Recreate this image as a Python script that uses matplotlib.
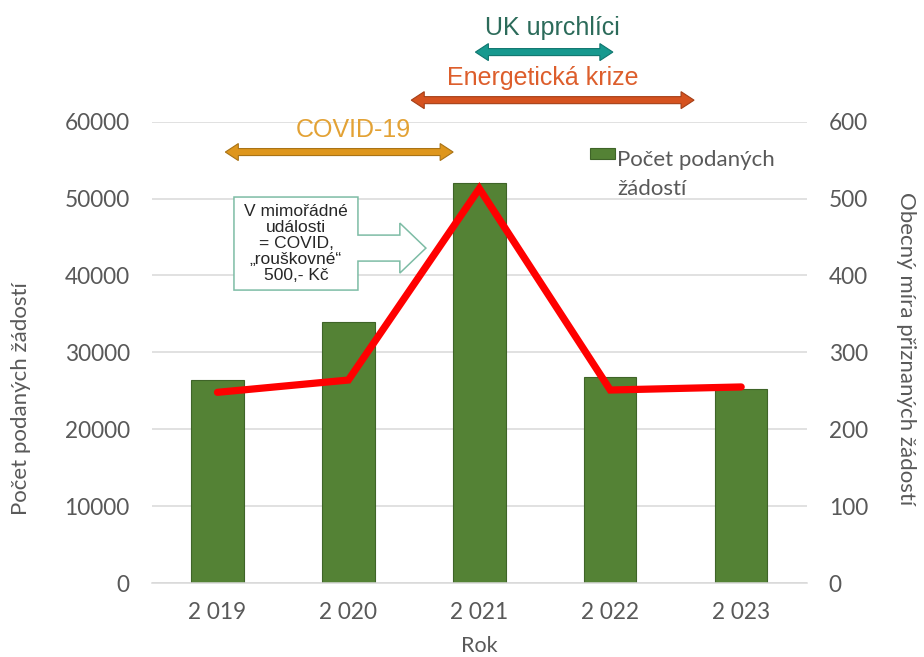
import numpy as np
import matplotlib
matplotlib.use("Agg")
import matplotlib.pyplot as plt
from matplotlib.patches import Polygon, Rectangle
from matplotlib.container import BarContainer
from matplotlib.legend_handler import HandlerPatch, update_from_first_child

plt.rcParams['font.family'] = ['Lato', 'DejaVu Sans']

# data
years = ['2 019', '2 020', '2 021', '2 022', '2 023']
zadosti = [26400, 33900, 52000, 26750, 25200]       # Počet podaných žádostí (bars)
mira = [248, 264, 513, 251, 255]                      # Obecný míra přiznaných žádostí (line)

# period arrows: (label, x from, x to, y level, fill, edge, text colour, text x, text y)
periods = [
    ('COVID-19', 0.06, 1.80, 56050, '#DE961C', '#A97316', '#E3A235', 1.04, 58900),
    ('Energetická krize', 1.48, 3.64, 62800, '#D5521F', '#A53F17', '#DD5E2C', 2.485, 65700),
    ('UK uprchlíci', 1.97, 3.02, 69050, '#17998F', '#10766F', '#2C6B5A', 2.56, 72200),
]

gray = '#595959'
grid = '#D9D9D9'

fig = plt.figure(figsize=(9.24, 6.57), dpi=100)
ax = fig.add_axes([0.1645, 0.1126, 0.7085, 0.7022])
ax2 = ax.twinx()

x = np.arange(len(years))
ax.bar(x, zadosti, width=0.4, color='#548235', edgecolor='#3F6428', linewidth=0.8,
       label='Počet podaných\nžádostí', zorder=2)
ax2.plot(x, mira, color='#FF0000', lw=5.2, solid_capstyle='round',
         solid_joinstyle='miter', zorder=3)

ax.set_xlim(-0.5, 4.5)
ax.set_ylim(0, 60000)
ax2.set_ylim(0, 600)
ax.set_yticks(np.arange(0, 60001, 10000))
ax2.set_yticks(np.arange(0, 601, 100))
ax.set_xticks(x)
ax.set_xticklabels(years)
ax.yaxis.grid(True, color=grid, lw=1.1, zorder=0)
ax.set_axisbelow(True)

for a in (ax, ax2):
    for s in a.spines.values():
        s.set_visible(False)
    a.tick_params(length=0, colors=gray, labelsize=16.3)
ax.spines['bottom'].set_visible(True)
ax.spines['bottom'].set_color(grid)
ax.spines['bottom'].set_linewidth(1.1)
ax.tick_params(axis='y', pad=16)
ax.tick_params(axis='x', pad=14)
ax2.tick_params(axis='y', pad=16)

ax.set_xlabel('Rok', color=gray, fontsize=15.5, labelpad=9)
ax.set_ylabel('Počet podaných žádostí', color=gray, fontsize=16)
ax.yaxis.set_label_coords(-0.185, 0.40)
ax2.set_ylabel('Obecný míra přiznaných žádostí', color=gray, fontsize=16,
               rotation=-90, va='center', ha='center')
ax2.yaxis.set_label_coords(1.152, 0.508)


def first_line_patch(legend, orig_handle, xdescent, ydescent, width, height, fontsize):
    # legend key sits beside the first line of the two-line label
    return Rectangle((-xdescent, -ydescent + 0.95 * fontsize), width, height)


leg = ax.legend(loc='upper left', bbox_to_anchor=(0.638, 0.982), frameon=False,
                fontsize=16, handlelength=1.15, handleheight=0.36, handletextpad=0.1,
                labelcolor=gray,
                handler_map={BarContainer: HandlerPatch(patch_func=first_line_patch,
                                                        update_func=update_from_first_child)})
for t in leg.get_texts():
    t.set_linespacing(1.55)

# pixel -> data scale factors
ax_w = 0.7085 * 924
ax_h = 0.7022 * 657
sx = 5.0 / ax_w
sy = 60000 / ax_h


def block_arrow(x0, x1, y, fill, edge, shaft=7, head=17, hlen=13):
    hs, hh, hl = shaft / 2 * sy, head / 2 * sy, hlen * sx
    pts = [(x0, y), (x0 + hl, y + hh), (x0 + hl, y + hs), (x1 - hl, y + hs),
           (x1 - hl, y + hh), (x1, y), (x1 - hl, y - hh), (x1 - hl, y - hs),
           (x0 + hl, y - hs), (x0 + hl, y - hh)]
    ax2.add_patch(Polygon(pts, closed=True, facecolor=fill, edgecolor=edge, lw=0.8,
                          transform=ax.transData, clip_on=False, zorder=5))


for label, x0, x1, y, fill, edge, tc, tx, ty in periods:
    block_arrow(x0, x1, y, fill, edge)
    ax.text(tx, ty, label, color=tc, fontsize=18, ha='center', va='center',
            family=['Liberation Sans', 'DejaVu Sans'], clip_on=False)

# callout box with right arrow
bx0, bx1, by0, by1 = 0.126, 1.073, 38100, 50200
call = [(bx0, by1), (bx1, by1), (bx1, 45250), (1.393, 45250), (1.393, 46810),
        (1.592, 43560), (1.393, 40310), (1.393, 41870), (bx1, 41870), (bx1, by0),
        (bx0, by0)]
ax2.add_patch(Polygon(call, closed=True, facecolor='white', edgecolor='#7DBCA5', lw=1.1,
                      transform=ax.transData, zorder=4))
ax2.text((bx0 + bx1) / 2, (by0 + by1) / 2, 'V mimořádné\nudálosti\n= COVID,\n„rouškovné“\n500,- Kč',
         transform=ax.transData, ha='center', va='center', fontsize=12.5, color='#262626',
         linespacing=1.08, family=['Liberation Sans', 'DejaVu Sans'], zorder=6)

fig.savefig('out.png', dpi=100)
